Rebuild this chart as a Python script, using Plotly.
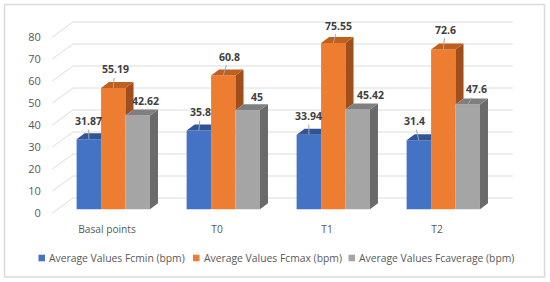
import plotly.graph_objects as go

categories = ["Basal points", "T0", "T1", "T2"]
fc_min = [31.87, 35.8, 33.94, 31.4]
fc_max = [55.19, 60.8, 75.55, 72.6]
fc_avg = [42.62, 45, 45.42, 47.6]
series_names = ["Average Values Fcmin (bpm)", "Average Values Fcmax (bpm)", "Average Values Fcaverage (bpm)"]
y_ticks = [0, 10, 20, 30, 40, 50, 60, 70, 80]

W, H = 550, 282
L, R, T, B = 52, 520, 10, 216
PX_X = 110.0
PX_Y = 2.2
X0 = 107.0            # pixel of first category label
Y0_BAR = 209.3        # pixel of value 0 on the bars' front face
Y0_WALL = 213.3       # pixel of value 0 on the front of the side wall
Y0_BACK = 198.0       # pixel of value 0 on the back wall
BAR = 24.45 / PX_X
OFF = 6.3 / PX_X      # group centre relative to label
DX = 8.0 / PX_X
DY = 6.0 / PX_Y
BACK_L = (73 - X0) / PX_X
BACK_R = (513 - X0) / PX_X
WALL_L = (52 - X0) / PX_X
BACK_DY = (Y0_WALL - Y0_BACK) / PX_Y

xr = [(L - X0) / PX_X, (R - X0) / PX_X]
y_bar = [(Y0_BAR - B) / PX_Y, (Y0_BAR - T) / PX_Y]
y_lab = [(Y0_WALL - B) / PX_Y, (Y0_WALL - T) / PX_Y]

FRONT = ["#4472C4", "#ED7D31", "#A5A5A5"]
TOP = ["#2F5597", "#C0601F", "#7F7F7F"]
SIDE = ["#2F5597", "#A04F1C", "#6A6A6A"]
values = [fc_min, fc_max, fc_avg]
xs = list(range(len(categories)))

fig = go.Figure()
for s, vals in enumerate(values):
    fig.add_trace(go.Bar(
        x=[i + OFF + (s - 1) * BAR for i in xs], y=vals, width=BAR, name=series_names[s],
        marker=dict(color=FRONT[s], line_width=0), yaxis="y2", hoverinfo="skip", showlegend=False))


def face(px, py, color):
    fig.add_trace(go.Scatter(x=px, y=py, mode="lines", fill="toself", fillcolor=color,
                             line=dict(width=0, color=color), yaxis="y2", showlegend=False, hoverinfo="skip"))


for i in xs:
    # blue top, cut by the orange front face
    c = i + OFF - BAR
    l, r = c - BAR / 2, c + BAR / 2
    v = fc_min[i]
    face([l, l + DX, r, r, l], [v, v + DY, v + DY, v, v], TOP[0])
    # orange side above the gray top, then tops
    c = i + OFF
    l, r = c - BAR / 2, c + BAR / 2
    v, g = fc_max[i], fc_avg[i]
    face([r, r + DX, r + DX, r, r], [v, v + DY, g + DY, g, v], SIDE[1])
    face([l, l + DX, r + DX, r, l], [v, v + DY, v + DY, v, v], TOP[1])
    # gray side and top
    c = i + OFF + BAR
    l, r = c - BAR / 2, c + BAR / 2
    face([r, r + DX, r + DX, r, r], [g, g + DY, DY, 0, g], SIDE[2])
    face([l, l + DX, r + DX, r, l], [g, g + DY, g + DY, g, g], TOP[2])

shapes = []
GRID = "#DCDCDC"
for t in y_ticks:
    shapes.append(dict(type="line", layer="below", xref="x", yref="y", x0=WALL_L, x1=BACK_L, y0=t, y1=t + BACK_DY,
                       line=dict(color=GRID, width=1)))
    shapes.append(dict(type="line", layer="below", xref="x", yref="y", x0=BACK_L, x1=BACK_R, y0=t + BACK_DY, y1=t + BACK_DY,
                       line=dict(color=GRID, width=1)))
pw, ph = R - L, B - T
shapes.append(dict(type="rect", layer="below", xref="paper", yref="paper",
                   x0=(4.5 - L) / pw, x1=(544.5 - L) / pw, y0=(B - 277) / ph, y1=(B - 4.5) / ph,
                   line=dict(color="#DADADA", width=1.5), fillcolor="rgba(0,0,0,0)"))

# label centre offsets from the anchor on each bar (pixels), and whether a leader line shows
label_offsets = {
    0: [(-0.2, -18), (1.7, -18.5), (0, -18.5), (-4.6, -19)],
    1: [(1.7, -18.5), (5.7, -19), (4.7, -17.5), (2, -20)],
    2: [(8, -15), (9, -13.5), (13, -14.5), (9, -15.5)],
}
leader = {0: [1, 1, 1, 1], 1: [1, 1, 1, 1], 2: [0, 0, 0, 1]}
annotations = []
for s, vals in enumerate(values):
    for i in xs:
        ox, oy = label_offsets[s][i]
        annotations.append(dict(
            x=i + OFF + (s - 1) * BAR, y=vals[i], xref="x", yref="y2", text=f"<b>{vals[i]:g}</b>",
            showarrow=True, arrowhead=0, arrowwidth=1,
            arrowcolor="#A6A6A6" if leader[s][i] else "rgba(0,0,0,0)",
            ax=ox, ay=oy, axref="pixel", ayref="pixel",
            font=dict(family="Open Sans", size=10.5, color="#404040"), standoff=0))

# legend: small squares with text
legend_sq = [38.5, 193, 348.5]
legend_y = 258.0
for s, name in enumerate(series_names):
    shapes.append(dict(type="rect", xref="paper", yref="paper", line_width=0, fillcolor=FRONT[s],
                       x0=(legend_sq[s] - L) / pw, x1=(legend_sq[s] + 6.5 - L) / pw,
                       y0=(B - legend_y - 3.3) / ph, y1=(B - legend_y + 3.3) / ph))
    annotations.append(dict(xref="paper", yref="paper", x=(legend_sq[s] + 9.5 - L) / pw, y=(B - legend_y) / ph,
                            xanchor="left", yanchor="middle", text=name, showarrow=False, borderpad=0,
                            font=dict(family="Open Sans", size=10.35, color="#595959")))

fig.update_layout(
    width=W, height=H, margin=dict(l=L, r=W - R, t=T, b=H - B),
    paper_bgcolor="white", plot_bgcolor="rgba(0,0,0,0)", showlegend=False,
    barmode="overlay", shapes=shapes, annotations=annotations,
    font=dict(family="Open Sans", color="#595959", size=11),
    xaxis=dict(range=xr, tickmode="array", tickvals=xs, ticktext=categories, showgrid=False, zeroline=False,
               showline=False, ticks="outside", ticklen=4, tickcolor="rgba(0,0,0,0)", tickfont=dict(size=10.2)),
    yaxis=dict(range=y_lab, tickmode="array", tickvals=y_ticks, showgrid=False, zeroline=False, showline=False,
               ticks="outside", ticklen=8, tickcolor="rgba(0,0,0,0)", tickfont=dict(size=11)),
    yaxis2=dict(range=y_bar, overlaying="y", visible=False),
)
fig.write_html("out.html", config={"displayModeBar": False},
               post_script="document.body.style.margin='0';document.body.style.overflow='hidden';")
